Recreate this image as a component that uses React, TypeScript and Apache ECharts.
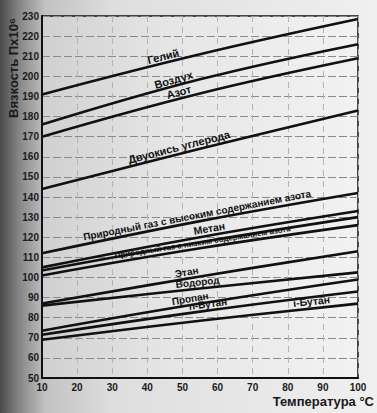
import React, { useEffect, useRef } from "react";
import * as echarts from "echarts";

// Temperature (°C) at which values were read
const temperatures = [10, 55, 100];

// Viscosity (П x 10^6)
const helium = [191, 211, 228.5];
const air = [176, 198.5, 216];
const nitrogen = [170, 191.5, 209];
const carbonDioxide = [144, 164, 183];
const natGasHighN2 = [112, 128, 142];
const methane = [105, 120, 133];
const methaneB = [103.5, 117.5, 130];
const natGasLowN2 = [101, 114.5, 126];
const ethane = [87, 100.5, 113];
const hydrogen = [86, 94.5, 102.5];
const propane = [73.5, 87, 99];
const nButane = [71.5, 83, 93];
const iButane = [69, 78.5, 87];

const seriesList = [
  { name: "Гелий", data: helium },
  { name: "Воздух", data: air },
  { name: "Азот", data: nitrogen },
  { name: "Двуокись углерода", data: carbonDioxide },
  { name: "Природный газ с высоким содержанием азота", data: natGasHighN2 },
  { name: "Метан", data: methane },
  { name: "Метан ", data: methaneB },
  { name: "Природный газ с низким содержанием азота", data: natGasLowN2 },
  { name: "Этан", data: ethane },
  { name: "Водород", data: hydrogen },
  { name: "Пропан", data: propane },
  { name: "n-Бутан", data: nButane },
  { name: "i-Бутан", data: iButane },
];

// label placement along each line (temperature of label centre)
const labelPlacements = [
  { idx: 0, at: 45, size: 11 },
  { idx: 1, at: 48, size: 11 },
  { idx: 2, at: 49.5, size: 11 },
  { idx: 3, at: 49.5, size: 11 },
  { idx: 4, at: 54.5, size: 10 },
  { idx: 5, at: 58, size: 10.5 },
  { idx: 7, at: 56, size: 8 },
  { idx: 8, at: 51.5, size: 10 },
  { idx: 9, at: 54.5, size: 10 },
  { idx: 10, at: 52.5, size: 10 },
  { idx: 11, at: 57.5, size: 10 },
  { idx: 12, at: 87, size: 10.5 },
];

function valueAt(values: number[], t: number) {
  for (let i = 0; i < temperatures.length - 1; i++) {
    const t0 = temperatures[i];
    const t1 = temperatures[i + 1];
    if (t >= t0 && t <= t1) {
      const f = (t - t0) / (t1 - t0);
      return values[i] + f * (values[i + 1] - values[i]);
    }
  }
  return values[values.length - 1];
}

const FONT = "'Liberation Sans', Arial, sans-serif";

export default function App() {
  const ref = useRef<HTMLDivElement>(null);
  useEffect(() => {
    document.body.style.margin = "0";
    if (!ref.current) return;
    const chart = echarts.init(ref.current, undefined, { renderer: "svg" });
    chart.setOption({
      animation: false,
      backgroundColor: new echarts.graphic.LinearGradient(0, 0, 1, 0, [
        { offset: 0, color: "#4a4a4a" },
        { offset: 0.05, color: "#858585" },
        { offset: 0.12, color: "#c2c2c2" },
        { offset: 0.3, color: "#dedede" },
        { offset: 1, color: "#f0f0f0" },
      ]),
      grid: {
        left: 42,
        top: 16,
        right: 19,
        bottom: 35,
        show: true,
        borderColor: "#111",
        borderWidth: 1.5,
        backgroundColor: new echarts.graphic.LinearGradient(0, 0, 1, 0, [
          { offset: 0, color: "#d0d0d0" },
          { offset: 0.4, color: "#e6e6e6" },
          { offset: 1, color: "#f2f2f2" },
        ]),
      },
      xAxis: {
        type: "value",
        min: 10,
        max: 100,
        interval: 10,
        axisLine: { show: true, onZero: false, lineStyle: { color: "#111", width: 2 } },
        axisTick: { show: false },
        axisLabel: { color: "#1a1a1a", fontWeight: "bold", fontSize: 10, fontFamily: FONT, margin: 4 },
        splitLine: { show: true, lineStyle: { color: "#b4b4b4", type: [6, 5], width: 1 } },
      },
      yAxis: {
        type: "value",
        min: 50,
        max: 230,
        interval: 10,
        axisLine: { show: true, onZero: false, lineStyle: { color: "#111", width: 2 } },
        axisTick: { show: false },
        axisLabel: { color: "#1a1a1a", fontWeight: "bold", fontSize: 10, fontFamily: FONT, margin: 3 },
        splitLine: { show: true, lineStyle: { color: "#8a8a8a", type: [8, 3], width: 1.2 } },
      },
      series: seriesList.map((s) => ({
        type: "line",
        name: s.name,
        data: temperatures.map((t, i) => [t, s.data[i]]),
        smooth: 0.4,
        symbol: "none",
        lineStyle: { color: "#111", width: 2.6 },
        silent: true,
      })),
    });

    const graphics: any[] = [];
    labelPlacements.forEach((lp) => {
      const s = seriesList[lp.idx];
      const v = valueAt(s.data, lp.at);
      const p = chart.convertToPixel({ gridIndex: 0 }, [lp.at, v]) as number[];
      const pa = chart.convertToPixel({ gridIndex: 0 }, [lp.at - 4, valueAt(s.data, lp.at - 4)]) as number[];
      const pb = chart.convertToPixel({ gridIndex: 0 }, [lp.at + 4, valueAt(s.data, lp.at + 4)]) as number[];
      const ang = Math.atan2(pa[1] - pb[1], pb[0] - pa[0]);
      graphics.push({
        type: "text",
        x: p[0],
        y: p[1],
        rotation: ang,
        silent: true,
        style: {
          text: s.name.trim(),
          x: 0,
          y: -1.5,
          fill: "#111",
          font: `bold ${lp.size}px ${FONT}`,
          align: "center",
          verticalAlign: "bottom",
          textAlign: "center",
          textVerticalAlign: "bottom",
        },
      });
    });
    graphics.push({
      type: "text",
      x: 13,
      y: 68,
      rotation: Math.PI / 2,
      silent: true,
      style: {
        text: "Вязкость Пх10⁶",
        fill: "#1a1a1a",
        font: `bold 13px ${FONT}`,
        align: "center",
        verticalAlign: "middle",
        textAlign: "center",
        textVerticalAlign: "middle",
      },
    });
    graphics.push({
      type: "text",
      x: 374,
      y: 401,
      silent: true,
      style: {
        text: "Температура °C",
        fill: "#1a1a1a",
        font: `bold 13px ${FONT}`,
        align: "right",
        verticalAlign: "middle",
        textAlign: "right",
        textVerticalAlign: "middle",
      },
    });
    chart.setOption({ graphic: graphics });

    return () => chart.dispose();
  }, []);
  return <div ref={ref} style={{ width: 377, height: 413 }} />;
}
